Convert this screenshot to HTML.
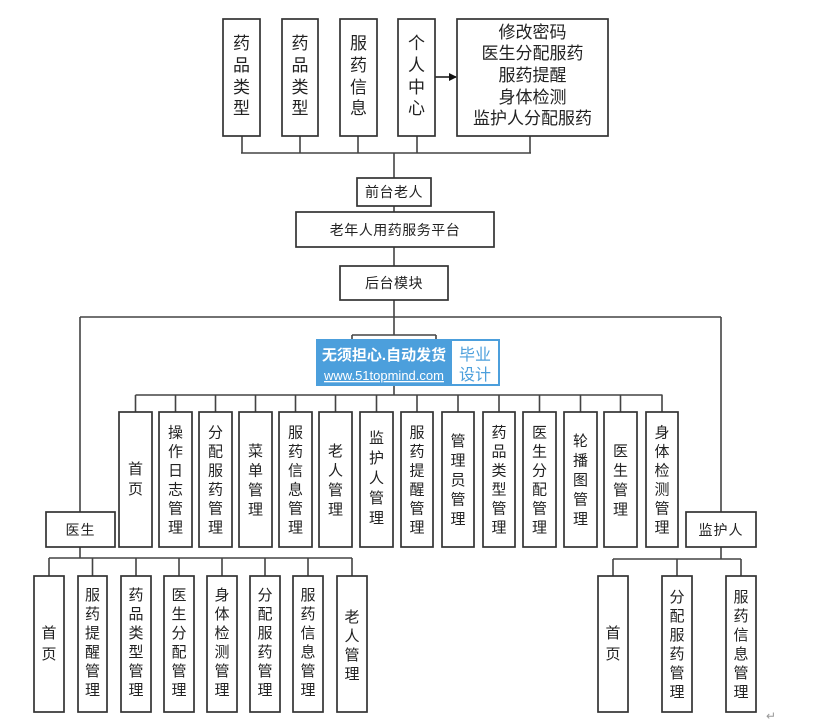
<!DOCTYPE html>
<html><head><meta charset="utf-8"><style>
html,body{margin:0;padding:0;background:#fff;}
svg{display:block;}
text{font-family:"Liberation Sans","Noto Sans CJK SC",sans-serif;fill:#222;}
</style></head><body>
<svg width="816" height="725" viewBox="0 0 816 725" xmlns="http://www.w3.org/2000/svg">
<defs>
<marker id="ah" markerWidth="8" markerHeight="8" refX="7" refY="4" orient="auto" markerUnits="userSpaceOnUse">
<path d="M0,0 L8,4 L0,8 Z" fill="#111"/>
</marker>
</defs>
<g stroke="#444" stroke-width="1.6" fill="none">
<path d="M242,136V153M300,136V153M358,136V153M417,136V153M530,136V153M241,153H531M394,153V178"/>
<path d="M394,206V212M394,247V266M394,300V335"/>
<path d="M80,317H721M80,317V512M721,317V512"/>
<path d="M352,335H436M352,335V345M436,335V345"/>
<path d="M394,386V395M135.5,395H662.5"/>
<path d="M135.5,395V412M175.5,395V412M215.5,395V412M255.5,395V412M295.5,395V412M335.5,395V412M376.5,395V412M417,395V412M458,395V412M499,395V412M539.5,395V412M580.5,395V412M620.5,395V412M662,395V412"/>
<path d="M80,547V558M49,558H352M49,558V576M92.5,558V576M136,558V576M179,558V576M222,558V576M265,558V576M308,558V576M352,558V576"/>
<path d="M721,547V559M613,559H741M613,559V576M677,559V576M741,559V576"/>
</g>
<line x1="435" y1="77" x2="456" y2="77" stroke="#111" stroke-width="1.6" marker-end="url(#ah)"/>
<g stroke="#333" stroke-width="1.7" fill="#fff">
<rect x="223" y="19" width="37" height="117"/>
<rect x="282" y="19" width="36" height="117"/>
<rect x="340" y="19" width="37" height="117"/>
<rect x="398" y="19" width="37" height="117"/>
<rect x="457" y="19" width="151" height="117"/>
<rect x="357" y="178" width="74" height="28"/>
<rect x="296" y="212" width="198" height="35"/>
<rect x="340" y="266" width="108" height="34"/>
<rect x="46" y="512" width="69" height="35"/>
<rect x="686" y="512" width="70" height="35"/>
<rect x="119" y="412" width="33" height="135"/>
<rect x="159" y="412" width="33" height="135"/>
<rect x="199" y="412" width="33" height="135"/>
<rect x="239" y="412" width="33" height="135"/>
<rect x="279" y="412" width="33" height="135"/>
<rect x="319" y="412" width="33" height="135"/>
<rect x="360" y="412" width="33" height="135"/>
<rect x="401" y="412" width="32" height="135"/>
<rect x="442" y="412" width="32" height="135"/>
<rect x="483" y="412" width="32" height="135"/>
<rect x="523" y="412" width="33" height="135"/>
<rect x="564" y="412" width="33" height="135"/>
<rect x="604" y="412" width="33" height="135"/>
<rect x="646" y="412" width="32" height="135"/>
<rect x="34" y="576" width="30" height="136"/>
<rect x="78" y="576" width="29" height="136"/>
<rect x="121" y="576" width="30" height="136"/>
<rect x="164" y="576" width="30" height="136"/>
<rect x="207" y="576" width="30" height="136"/>
<rect x="250" y="576" width="30" height="136"/>
<rect x="293" y="576" width="30" height="136"/>
<rect x="337" y="576" width="30" height="136"/>
<rect x="598" y="576" width="30" height="136"/>
<rect x="662" y="576" width="30" height="136"/>
<rect x="726" y="576" width="30" height="136"/>
</g>
<g font-size="17" text-anchor="middle">
<text x="241.5" y="49">药</text><text x="241.5" y="71">品</text><text x="241.5" y="93">类</text><text x="241.5" y="114">型</text>
<text x="300" y="49">药</text><text x="300" y="71">品</text><text x="300" y="93">类</text><text x="300" y="114">型</text>
<text x="358.5" y="49">服</text><text x="358.5" y="71">药</text><text x="358.5" y="93">信</text><text x="358.5" y="114">息</text>
<text x="416.5" y="49">个</text><text x="416.5" y="71">人</text><text x="416.5" y="93">中</text><text x="416.5" y="114">心</text>
<text x="532.5" y="38">修改密码</text>
<text x="532.5" y="59">医生分配服药</text>
<text x="532.5" y="81">服药提醒</text>
<text x="532.5" y="103">身体检测</text>
<text x="532.5" y="124">监护人分配服药</text>
</g>
<g font-size="14" text-anchor="middle">
<text x="394" y="197" letter-spacing="0.5">前台老人</text>
<text x="395" y="235" letter-spacing="0.5">老年人用药服务平台</text>
<text x="394" y="288" letter-spacing="0.5">后台模块</text>
<text x="80.5" y="535" letter-spacing="1">医生</text>
<text x="721" y="535" letter-spacing="1">监护人</text>
</g>
<g font-size="15" text-anchor="middle">
<text x="135.5" y="474">首</text><text x="135.5" y="494">页</text>
<text x="175.5" y="437.5">操</text><text x="175.5" y="456.5">作</text><text x="175.5" y="475.5">日</text><text x="175.5" y="494.5">志</text><text x="175.5" y="513.5">管</text><text x="175.5" y="532.5">理</text>
<text x="215.5" y="437.5">分</text><text x="215.5" y="456.5">配</text><text x="215.5" y="475.5">服</text><text x="215.5" y="494.5">药</text><text x="215.5" y="513.5">管</text><text x="215.5" y="532.5">理</text>
<text x="255.5" y="456">菜</text><text x="255.5" y="475.5">单</text><text x="255.5" y="495">管</text><text x="255.5" y="514.5">理</text>
<text x="295.5" y="437.5">服</text><text x="295.5" y="456.5">药</text><text x="295.5" y="475.5">信</text><text x="295.5" y="494.5">息</text><text x="295.5" y="513.5">管</text><text x="295.5" y="532.5">理</text>
<text x="335.5" y="456">老</text><text x="335.5" y="475.5">人</text><text x="335.5" y="495">管</text><text x="335.5" y="514.5">理</text>
<text x="376.5" y="443">监</text><text x="376.5" y="463">护</text><text x="376.5" y="483">人</text><text x="376.5" y="503">管</text><text x="376.5" y="523">理</text>
<text x="417" y="437.5">服</text><text x="417" y="456.5">药</text><text x="417" y="475.5">提</text><text x="417" y="494.5">醒</text><text x="417" y="513.5">管</text><text x="417" y="532.5">理</text>
<text x="458" y="446">管</text><text x="458" y="465.5">理</text><text x="458" y="485">员</text><text x="458" y="504.5">管</text><text x="458" y="524">理</text>
<text x="499" y="437.5">药</text><text x="499" y="456.5">品</text><text x="499" y="475.5">类</text><text x="499" y="494.5">型</text><text x="499" y="513.5">管</text><text x="499" y="532.5">理</text>
<text x="539.5" y="437.5">医</text><text x="539.5" y="456.5">生</text><text x="539.5" y="475.5">分</text><text x="539.5" y="494.5">配</text><text x="539.5" y="513.5">管</text><text x="539.5" y="532.5">理</text>
<text x="580.5" y="446">轮</text><text x="580.5" y="465.5">播</text><text x="580.5" y="485">图</text><text x="580.5" y="504.5">管</text><text x="580.5" y="524">理</text>
<text x="620.5" y="456">医</text><text x="620.5" y="475.5">生</text><text x="620.5" y="495">管</text><text x="620.5" y="514.5">理</text>
<text x="662" y="437.5">身</text><text x="662" y="456.5">体</text><text x="662" y="475.5">检</text><text x="662" y="494.5">测</text><text x="662" y="513.5">管</text><text x="662" y="532.5">理</text>
</g>
<g font-size="15" text-anchor="middle">
<text x="49" y="638">首</text><text x="49" y="659">页</text>
<text x="92.5" y="600">服</text><text x="92.5" y="619">药</text><text x="92.5" y="638">提</text><text x="92.5" y="657">醒</text><text x="92.5" y="676">管</text><text x="92.5" y="695">理</text>
<text x="136" y="600">药</text><text x="136" y="619">品</text><text x="136" y="638">类</text><text x="136" y="657">型</text><text x="136" y="676">管</text><text x="136" y="695">理</text>
<text x="179" y="600">医</text><text x="179" y="619">生</text><text x="179" y="638">分</text><text x="179" y="657">配</text><text x="179" y="676">管</text><text x="179" y="695">理</text>
<text x="222" y="600">身</text><text x="222" y="619">体</text><text x="222" y="638">检</text><text x="222" y="657">测</text><text x="222" y="676">管</text><text x="222" y="695">理</text>
<text x="265" y="600">分</text><text x="265" y="619">配</text><text x="265" y="638">服</text><text x="265" y="657">药</text><text x="265" y="676">管</text><text x="265" y="695">理</text>
<text x="308" y="600">服</text><text x="308" y="619">药</text><text x="308" y="638">信</text><text x="308" y="657">息</text><text x="308" y="676">管</text><text x="308" y="695">理</text>
<text x="352" y="622">老</text><text x="352" y="641">人</text><text x="352" y="660">管</text><text x="352" y="679">理</text>
<text x="613" y="638">首</text><text x="613" y="659">页</text>
<text x="677" y="602">分</text><text x="677" y="621">配</text><text x="677" y="640">服</text><text x="677" y="659">药</text><text x="677" y="678">管</text><text x="677" y="697">理</text>
<text x="741" y="602">服</text><text x="741" y="621">药</text><text x="741" y="640">信</text><text x="741" y="659">息</text><text x="741" y="678">管</text><text x="741" y="697">理</text>
</g>
<rect x="316" y="339" width="184" height="47" fill="#4c9fdc"/>
<rect x="452" y="341" width="46" height="43" fill="#fff"/>
<text x="384" y="360" font-size="15" font-weight="bold" text-anchor="middle" style="fill:#fff">无须担心.自动发货</text>
<text x="384" y="380" font-size="13" text-anchor="middle" style="fill:#fff" text-decoration="underline">www.51topmind.com</text>
<text x="475" y="360" font-size="16" text-anchor="middle" style="fill:#4c9fdc">毕业</text>
<text x="475" y="380" font-size="16" text-anchor="middle" style="fill:#4c9fdc">设计</text>
<text x="771" y="720" font-size="12" text-anchor="middle" style="fill:#999">↵</text>
</svg>
</body></html>
